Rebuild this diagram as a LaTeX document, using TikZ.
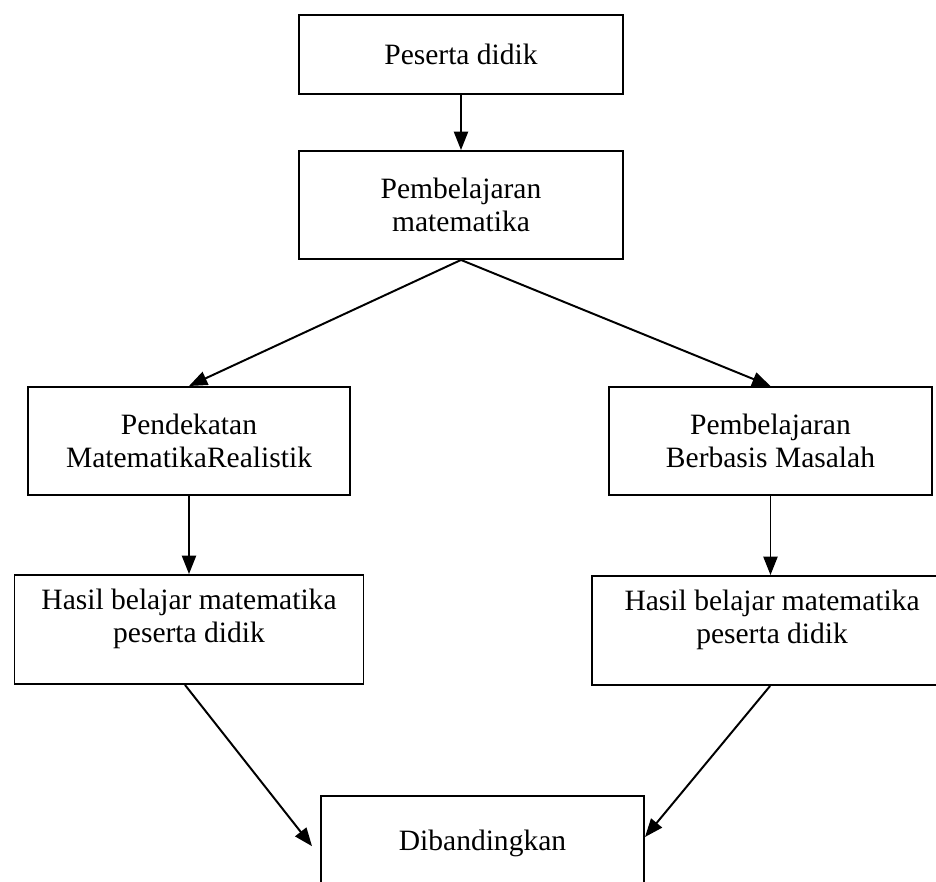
\documentclass[tikz,border=0pt]{standalone}
\usepackage{fontspec}
\setmainfont{Liberation Serif}
\usetikzlibrary{arrows.meta, positioning}
\tikzset{
  stepbox/.style={rectangle,draw=black,line width=1.4pt,align=center,inner sep=2pt,
    minimum width=8.1cm,minimum height=2.7cm,font=\fontsize{21pt}{23.5pt}\selectfont},
  resbox/.style={stepbox,minimum height=2.725cm,text depth=20pt},
  arr/.style={-{Triangle[length=13pt,width=10pt]},line width=1.4pt,color=black}
}

\begin{document}
\begin{tikzpicture}
  \useasboundingbox (0,0) rectangle (23.4,-22.05);
  \clip (0,0) rectangle (23.4,-22.05);

  %% Top
  \node[stepbox,minimum height=1.975cm] (peserta) at (11.525,-1.3625) {Peserta didik};
  \node[stepbox,below=1.375cm of peserta] (pembel) {Pembelajaran\\matematika};

  %% Two approaches
  \node[stepbox,minimum width=8.05cm] (pmr) at (4.725,-11.025) {Pendekatan\\MatematikaRealistik};
  \node[stepbox,minimum width=8.075cm] (pbm) at (19.2625,-11.025) {Pembelajaran\\Berbasis Masalah};

  %% Results
  \node[resbox,minimum width=8.725cm,below=1.95cm of pmr] (hasilA) {Hasil belajar matematika\\peserta didik};
  \node[resbox,minimum width=9.0cm,below=1.975cm of pbm,xshift=0.04cm] (hasilB) {Hasil belajar matematika\\peserta didik};

  %% Comparison
  \node[stepbox,minimum width=8.075cm,minimum height=2.35cm] (banding) at (12.0625,-21.075) {Dibandingkan};

  %% Arrows
  \draw[arr] (peserta.south)--(pembel.north);
  \draw[arr] (pembel.south)--(pmr.north);
  \draw[arr] (pembel.south)--(pbm.north);
  \draw[arr] (pmr.south)--(hasilA.north);
  \draw[arr] (pbm.south)--(hasilB.north-|pbm.south);
  \draw[arr] ([xshift=-0.1cm]hasilA.south)--([xshift=-0.2cm,yshift=-0.08cm]banding.west);
  \draw[arr] ([xshift=-0.05cm]hasilB.south)--([yshift=0.15cm]banding.east);
\end{tikzpicture}
\end{document}
